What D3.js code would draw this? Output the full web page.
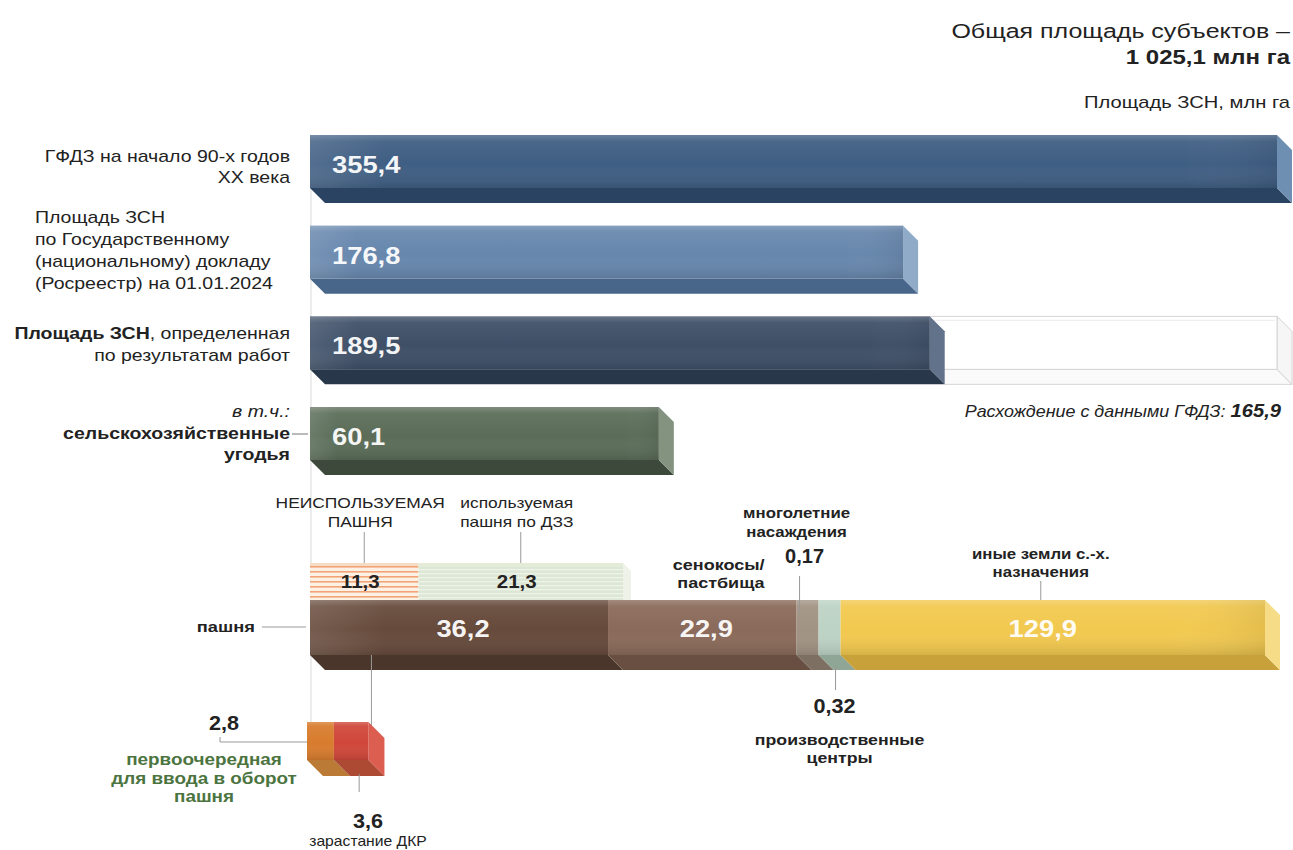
<!DOCTYPE html>
<html><head><meta charset="utf-8">
<script src="https://cdn.jsdelivr.net/npm/d3@7"></script>
<style>
body{margin:0;background:#fff}
svg{display:block}
text{font-family:"Liberation Sans",Arial,Helvetica,sans-serif}
</style>
</head><body>
<svg id="c" width="1293" height="850"></svg>
<script>
// ---------------- DATA ----------------
const titleLines = ["Общая площадь субъектов –", "1 025,1 млн га"];
const unitLabel = "Площадь ЗСН, млн га";

const topCategories = ["ГФДЗ", "Госдоклад", "Результаты работ", "с.-х. угодья"];
const topValues = [355.4, 176.8, 189.5, 60.1];
const topValueLabels = ["355,4", "176,8", "189,5", "60,1"];
const topLabelLines = [
  [[["ГФДЗ на начало 90-х годов", "n"]], [["XX века", "n"]]],
  [[["Площадь ЗСН", "n"]], [["по Государственному", "n"]], [["(национальному) докладу", "n"]], [["(Росреестр) на 01.01.2024", "n"]]],
  [[["Площадь ЗСН", "b"], [", определенная", "n"]], [["по результатам работ", "n"]]],
  [[["в т.ч.:", "i"]], [["сельскохозяйственные", "b"]], [["угодья", "b"]]]
];
const discrepancyValue = 165.9;
const discrepancyText = ["Расхождение с данными ГФДЗ: ", "165,9"];

const landCategories = ["пашня", "сенокосы/пастбища", "многолетние насаждения", "производственные центры", "иные земли с.-х. назначения"];
const landValues = [36.2, 22.9, 0.17, 0.32, 129.9];
const landValueLabels = ["36,2", "22,9", "0,17", "0,32", "129,9"];

const arableCategories = ["НЕИСПОЛЬЗУЕМАЯ ПАШНЯ", "используемая пашня по ДЗЗ"];
const arableValues = [11.3, 21.3];
const arableValueLabels = ["11,3", "21,3"];

const cubeCategories = ["первоочередная для ввода в оборот пашня", "зарастание ДКР"];
const cubeValues = [2.8, 3.6];
const cubeValueLabels = ["2,8", "3,6"];

// ---------------- LAYOUT ----------------
const svg = d3.select("#c");
const x0 = 310;
const depth = 15;
const barH = 53;

const defs = svg.append("defs");
const shine = defs.append("linearGradient").attr("id", "shine").attr("x1", 0).attr("y1", 0).attr("x2", 0).attr("y2", 1);
[[0, "#fff", 0.22], [0.12, "#fff", 0.06], [0.55, "#fff", 0], [1, "#000", 0.12]].forEach(s =>
  shine.append("stop").attr("offset", s[0]).attr("stop-color", s[1]).attr("stop-opacity", s[2]));
const hshine = defs.append("linearGradient").attr("id", "hshine").attr("x1", 0).attr("y1", 0).attr("x2", 1).attr("y2", 0);
[[0, "#fff", 0.10], [0.08, "#fff", 0.0], [0.9, "#fff", 0.0], [1, "#000", 0.06]].forEach(s =>
  hshine.append("stop").attr("offset", s[0]).attr("stop-color", s[1]).attr("stop-opacity", s[2]));

const p1 = defs.append("pattern").attr("id", "stripeOrange").attr("patternUnits", "userSpaceOnUse").attr("width", 8).attr("height", 5);
p1.append("rect").attr("width", 8).attr("height", 5).attr("fill", "#fdf1e6");
p1.append("rect").attr("y", 1).attr("width", 8).attr("height", 1.6).attr("fill", "#f1a576");
const p2 = defs.append("pattern").attr("id", "stripeGreen").attr("patternUnits", "userSpaceOnUse").attr("width", 8).attr("height", 4);
p2.append("rect").attr("width", 8).attr("height", 4).attr("fill", "#dce7d5");
p2.append("rect").attr("y", 1).attr("width", 8).attr("height", 1.4).attr("fill", "#eef3ea");

// text helper: the source artwork uses a horizontally widened sans face
function txt(parent, x, y, str, o) {
  o = o || {};
  const t = parent.append("text")
    .attr("transform", `translate(${x},${y}) scale(${o.sx || 1},1)`)
    .attr("text-anchor", o.anchor || "start")
    .attr("font-size", o.size || 16)
    .attr("fill", o.fill || "#222");
  if (o.weight) t.attr("font-weight", o.weight);
  if (o.style) t.attr("font-style", o.style);
  if (o.opacity) t.attr("fill-opacity", o.opacity);
  if (str !== null) t.text(str);
  return t;
}

function box3d(g, o) {
  const {x, y, w, h, d} = o;
  if (o.bottom) {
    g.append("path").attr("d", `M${x},${y + h}L${x + w},${y + h}L${x + w + d},${y + h + d}L${x + d},${y + h + d}Z`)
      .attr("fill", o.bottom).attr("stroke", o.stroke || "none");
  }
  if (o.side) {
    g.append("path").attr("d", `M${x + w},${y}L${x + w + d},${y + d}L${x + w + d},${y + h + d}L${x + w},${y + h}Z`)
      .attr("fill", o.side).attr("stroke", o.stroke || "none");
  }
  g.append("rect").attr("x", x).attr("y", y).attr("width", w).attr("height", h)
    .attr("fill", o.front).attr("stroke", o.stroke || "none");
  if (o.shine !== false) {
    g.append("rect").attr("x", x).attr("y", y).attr("width", w).attr("height", h).attr("fill", "url(#shine)");
  }
}

// faint guide line
svg.append("line").attr("x1", x0 + 1).attr("x2", x0 + 1).attr("y1", 135).attr("y2", 722)
  .attr("stroke", "#d9d9d9").attr("stroke-width", 1);

// ---------------- TITLE ----------------
txt(svg, 1290, 38, titleLines[0], {anchor: "end", size: 20, sx: 1.25});
txt(svg, 1290, 64, titleLines[1], {anchor: "end", size: 20, sx: 1.2, weight: "bold"});
txt(svg, 1290, 108, unitLabel, {anchor: "end", size: 16, sx: 1.26});

// ---------------- TOP BARS ----------------
const yTop = d3.scalePoint().domain(topCategories).range([135, 407]);
const xTop = d3.scaleLinear().domain([0, d3.max(topValues)]).range([x0 + 223, x0 + 967]);
const topColors = [
  {front: "#3f5e83", bottom: "#2a4362", side: "#6e8fb1"},
  {front: "#6787ad", bottom: "#48658a", side: "#90abc8"},
  {front: "#3e4f67", bottom: "#29374b", side: "#61728a"},
  {front: "#5b6d59", bottom: "#3d4a3b", side: "#83937f"}
];

// discrepancy outline box (behind bar 3)
{
  const y = yTop(topCategories[2]);
  const xa = xTop(topValues[2]), xb = xTop(topValues[2] + discrepancyValue);
  const g = svg.append("g");
  box3d(g, {x: xa, y: y, w: xb - xa, h: barH, d: depth, front: "#fff", bottom: "#fafafa", side: "#f6f6f6",
    stroke: "#d4d4d4", shine: false});
  g.append("line").attr("x1", xa + 2).attr("x2", xb - 2).attr("y1", y + 4).attr("y2", y + 4).attr("stroke", "#ececec");
  const t = txt(svg, xb + 4, y + barH + depth + 33, null, {anchor: "end", size: 16, sx: 1.12, style: "italic"});
  t.append("tspan").text(discrepancyText[0]);
  t.append("tspan").attr("font-weight", "bold").attr("font-size", 18).text(discrepancyText[1]);
}

topCategories.forEach((c, i) => {
  const y = yTop(c);
  const g = svg.append("g");
  const w = xTop(topValues[i]) - x0;
  box3d(g, {x: x0, y: y, w: w, h: barH, d: depth, ...topColors[i]});
  g.append("rect").attr("x", x0).attr("y", y).attr("width", w).attr("height", barH).attr("fill", "url(#hshine)");
  txt(g, x0 + 22, y + 38, topValueLabels[i], {size: 24, sx: 1.14, weight: "bold", fill: "#fff", opacity: 0.95});
});

// left labels
const labelCfg = [
  {anchor: "end", x: 290, dy: [27, 48]},
  {anchor: "start", x: 35, dy: [-3, 19, 41, 63]},
  {anchor: "end", x: 290, dy: [23, 45]},
  {anchor: "end", x: 290, dy: [10, 32, 53]}
];
topLabelLines.forEach((lines, i) => {
  const y = yTop(topCategories[i]);
  const cfg = labelCfg[i];
  lines.forEach((parts, j) => {
    const t = txt(svg, cfg.x, y + cfg.dy[j], null, {anchor: cfg.anchor, size: 16, sx: 1.22});
    parts.forEach(p => {
      const ts = t.append("tspan").text(p[0]);
      if (p[1] === "b") ts.attr("font-weight", "bold");
      if (p[1] === "i") ts.attr("font-style", "italic");
    });
  });
});
{
  const y = yTop(topCategories[3]);
  svg.append("line").attr("x1", 292).attr("x2", x0 - 2).attr("y1", y + 27).attr("y2", y + 27).attr("stroke", "#777");
}

// ---------------- BOTTOM (LAND) BAR ----------------
const landTop = 600, landH = 55;
const xRight = 1265;
const minSeg = 22;
// linear scale in млн га; the long last segment is truncated at the right edge (clamp)
const xLand = d3.scaleLinear().domain([0, 116]).range([x0, xRight]).clamp(true);
const landColors = [
  {front: "#664a3b", bottom: "#4a362b"},
  {front: "#8a6a5a", bottom: "#684f42"},
  {front: "#a19383", bottom: "#7d6f62"},
  {front: "#bdd3c5", bottom: "#8fa596"},
  {front: "#f2c94f", bottom: "#c9a13a", side: "#f6dc86"}
];
let cursor = x0;
const landSegs = landValues.map((v, i) => {
  const w = Math.max(minSeg, xLand(v) - xLand(0));
  const end = Math.min(cursor + w, xRight);
  const s = {x: cursor, w: end - cursor, v: v, i: i};
  cursor = end;
  return s;
});

// detail scale for the breakdown of пашня (sub-bars & cubes), spanning the пашня segment incl. its depth
const xArable = d3.scaleLinear().domain([0, d3.sum(arableValues)])
  .range([x0, landSegs[0].x + landSegs[0].w + depth]);

const subTop = 563, subH = landTop - subTop;
let sc = x0;
const subSegs = arableValues.map(v => {
  const w = xArable(v) - xArable(0);
  const s = {x: sc, w: w};
  sc += w;
  return s;
});
subSegs.forEach((s, i) => {
  const g = svg.append("g");
  g.append("rect").attr("x", s.x).attr("y", subTop).attr("width", s.w).attr("height", subH)
    .attr("fill", i === 0 ? "url(#stripeOrange)" : "url(#stripeGreen)");
  g.append("rect").attr("x", s.x).attr("y", subTop).attr("width", s.w).attr("height", 3)
    .attr("fill", i === 0 ? "#f6dcc4" : "#e4ebd6");
  if (i === subSegs.length - 1) {
    g.append("path").attr("d", `M${s.x + s.w},${subTop}L${s.x + s.w + 8},${subTop + 8}L${s.x + s.w + 8},${landTop}L${s.x + s.w},${landTop}Z`)
      .attr("fill", "#eef2e9");
  }
  const cx = s.x + s.w / 2;
  txt(svg, cx - 4, subTop + 25, arableValueLabels[i], {anchor: "middle", size: 19, sx: 1.08, weight: "bold"});
  svg.append("line").attr("x1", cx).attr("x2", cx).attr("y1", 532).attr("y2", subTop).attr("stroke", "#999");
});
{
  const words = [["НЕИСПОЛЬЗУЕМАЯ", "ПАШНЯ"], ["используемая", "пашня по ДЗЗ"]];
  subSegs.forEach((s, i) => {
    const cx = s.x + s.w / 2;
    words[i].forEach((w, j) => {
      txt(svg, cx - 4, 508 + j * 19, w, {anchor: "middle", size: i === 0 ? 15 : 14, sx: i === 0 ? 1.16 : 1.24});
    });
  });
}

// main land bar segments
const landG = svg.append("g");
landSegs.forEach((s, i) => {
  const last = i === landSegs.length - 1;
  box3d(landG, {x: s.x, y: landTop, w: s.w, h: landH, d: depth, front: landColors[i].front,
    bottom: landColors[i].bottom, side: last ? landColors[i].side : null});
});
landG.append("rect").attr("x", x0).attr("y", landTop).attr("width", xRight - x0).attr("height", landH).attr("fill", "url(#hshine)");

[0, 1, 4].forEach(i => {
  const s = landSegs[i];
  const cx = s.x + s.w / 2 + (i === 4 ? -10 : 4);
  txt(svg, cx, landTop + 37, landValueLabels[i], {anchor: "middle", size: 24, sx: 1.14, weight: "bold", fill: "#fff", opacity: 0.95});
});

function boldLines(lines, cx, y0, lh, size, anchor, color, sx) {
  lines.forEach((l, j) => txt(svg, cx, y0 + j * lh, l, {anchor: anchor || "middle", size: size, weight: "bold", fill: color || "#222", sx: sx || 1}));
}
// пашня
txt(svg, x0 - 55, landTop + 32, landCategories[0], {anchor: "end", size: 15, sx: 1.22, weight: "bold"});
svg.append("line").attr("x1", x0 - 48).attr("x2", x0 - 4).attr("y1", landTop + 27).attr("y2", landTop + 27).attr("stroke", "#999");
// сенокосы/пастбища
{
  const s = landSegs[1];
  boldLines(["сенокосы/", "пастбища"], s.x + s.w - 32, landTop - 30, 18, 15, "end", null, 1.2);
}
// многолетние насаждения 0,17
{
  const s = landSegs[2];
  const cx = s.x + s.w / 2;
  boldLines(["многолетние", "насаждения"], cx - 11, landTop - 82, 19, 15, "middle", null, 1.12);
  txt(svg, cx - 3, landTop - 37, landValueLabels[2], {anchor: "middle", size: 20, weight: "bold"});
  svg.append("line").attr("x1", cx - 8).attr("x2", cx - 8).attr("y1", landTop - 24).attr("y2", landTop + 14).attr("stroke", "#999");
}
// производственные центры 0,32
{
  const s = landSegs[3];
  const cx = s.x + s.w / 2;
  const yb = landTop + landH + depth;
  svg.append("line").attr("x1", cx + 6).attr("x2", cx + 6).attr("y1", yb - 4).attr("y2", yb + 20).attr("stroke", "#999");
  txt(svg, cx + 5, yb + 43, landValueLabels[3], {anchor: "middle", size: 20, weight: "bold", sx: 1.08});
  boldLines(["производственные", "центры"], cx + 10, yb + 75, 18, 15, "middle", null, 1.18);
}
// иные земли
{
  const s = landSegs[4];
  const cx = s.x + s.w / 2 - 12;
  boldLines(["иные земли с.-х.", "назначения"], cx, landTop - 41, 18, 15, "middle", null, 1.12);
  svg.append("line").attr("x1", cx).attr("x2", cx).attr("y1", landTop - 19).attr("y2", landTop).attr("stroke", "#999");
}

// ---------------- CUBES ----------------
const cubeTop = 722, cubeH = 38, cubeD = 16;
const cubeColors = [
  {front: "#d87c2e", bottom: "#bb7a35", side: "#e59a52"},
  {front: "#d0473a", bottom: "#ad4a33", side: "#dc5e50"}
];
let cc = x0 - 3;
const cubeSegs = cubeValues.map(v => {
  const w = xArable(v) - xArable(0);
  const s = {x: cc, w: w};
  cc += w;
  return s;
});
{
  const s = cubeSegs[1];
  const lx = s.x + s.w + 3;
  svg.append("line").attr("x1", lx).attr("x2", lx).attr("y1", landTop + landH).attr("y2", cubeTop + 4).attr("stroke", "#999");
}
const cubeG = svg.append("g");
cubeSegs.forEach((s, i) => {
  const last = i === cubeSegs.length - 1;
  box3d(cubeG, {x: s.x, y: cubeTop, w: s.w, h: cubeH, d: cubeD, front: cubeColors[i].front,
    bottom: cubeColors[i].bottom, side: last ? cubeColors[i].side : null});
});
{
  const s = cubeSegs[0];
  const ly = cubeTop + 20;
  svg.append("path").attr("d", `M${s.x},${ly}L220,${ly}L220,${ly - 5}`).attr("fill", "none").attr("stroke", "#999");
  txt(svg, 224, 730, cubeValueLabels[0], {anchor: "middle", size: 20, weight: "bold", sx: 1.08});
  boldLines(["первоочередная", "для ввода в оборот", "пашня"], 204, 765, 18.5, 16, "middle", "#4b7440", 1.18);
}
{
  const s = cubeSegs[1];
  const cx = s.x + s.w / 2 + 8;
  svg.append("line").attr("x1", cx).attr("x2", cx).attr("y1", cubeTop + cubeH + cubeD - 2).attr("y2", 792).attr("stroke", "#999");
  txt(svg, 368, 828, cubeValueLabels[1], {anchor: "middle", size: 20, weight: "bold", sx: 1.08});
  txt(svg, 368, 846, cubeCategories[1], {anchor: "middle", size: 14, sx: 1.12});
}
</script>
</body></html>
